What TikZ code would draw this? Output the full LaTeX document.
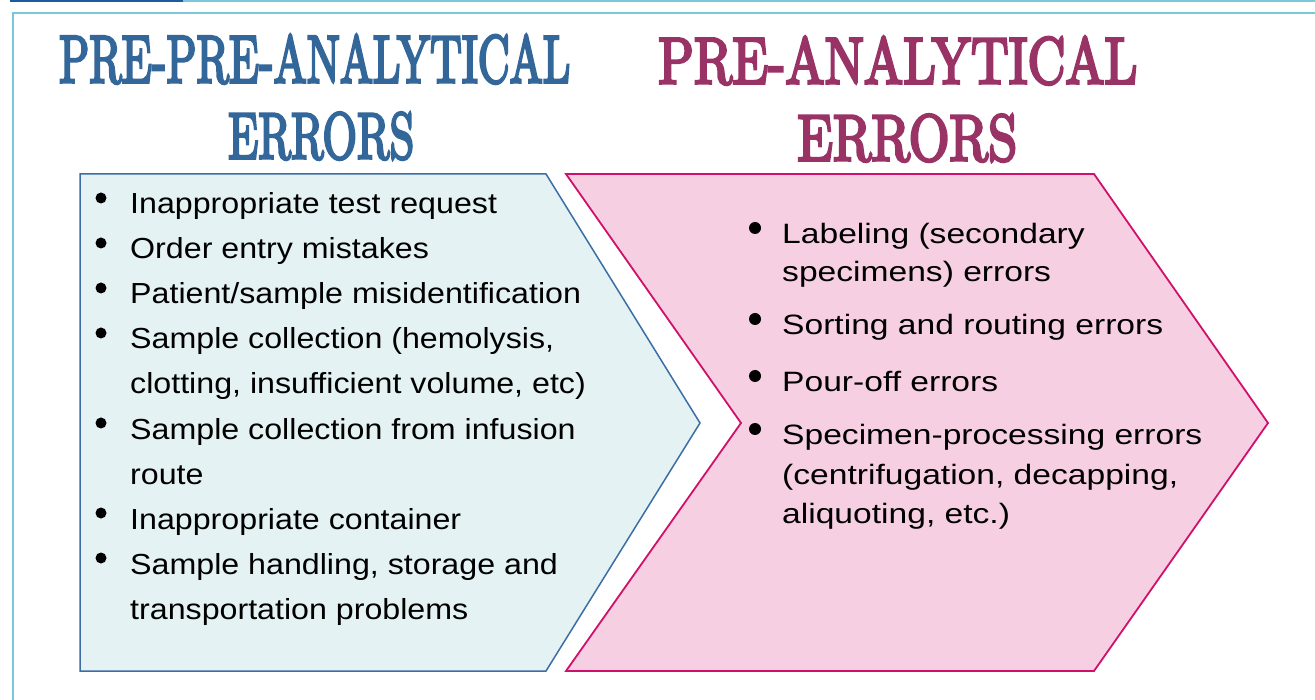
\documentclass[tikz,border=0pt]{standalone}
\usepackage{fontspec}
\usepackage{graphicx}
\newfontfamily\leftfont[FakeStretch=1.11]{Liberation Sans}
\newfontfamily\rightfont[FakeStretch=1.2]{Liberation Sans}
\newfontfamily\titlefont[FakeBold=4.5]{Latin Modern Roman}
\definecolor{titleblue}{HTML}{336699}
\definecolor{titlepink}{HTML}{993366}
\definecolor{boxblue}{HTML}{3A6EA5}
\definecolor{fillblue}{HTML}{E4F2F4}
\definecolor{boxpink}{HTML}{D0106A}
\definecolor{fillpink}{HTML}{F6D0E2}
\definecolor{topdark}{HTML}{1F5A9C}
\definecolor{framecyan}{HTML}{78C8DA}
\begin{document}
\begin{tikzpicture}[x=1pt,y=-1pt,
  ltext/.style={inner sep=0pt, anchor=base west, font=\leftfont\fontsize{29}{29}\selectfont},
  rtext/.style={inner sep=0pt, anchor=base west, font=\rightfont\fontsize{28}{28}\selectfont},
  lbul/.style={circle, fill=black, inner sep=0pt, minimum size=11pt},
  rbul/.style={circle, fill=black, inner sep=0pt, minimum size=12pt},
  ttl/.style={inner sep=0pt, anchor=south west},
  bluebox/.style={draw=boxblue, line width=1.5pt, fill=fillblue},
  pinkbox/.style={draw=boxpink, line width=1.8pt, fill=fillpink}]
\useasboundingbox (0,0) rectangle (1315,700);
\fill[white] (0,0) rectangle (1315,700);
% top rules and frame
\draw[line width=2pt, topdark] (10,1) -- (183,1);
\draw[line width=2pt, framecyan] (183,1) -- (1315,1);
\draw[line width=2pt, framecyan] (13,700) -- (13,13.5) -- (1315,13.5);
% titles
\node[ttl, text=titleblue] (t1) at (59,84) {\resizebox{511pt}{48pt}{\titlefont PRE-PRE-ANALYTICAL}};
\node[ttl, text=titleblue] (t2) at (228,160) {\resizebox{186pt}{46pt}{\titlefont ERRORS}};
\node[ttl, text=titlepink] (t3) at (658,85) {\resizebox{479pt}{47pt}{\titlefont PRE-ANALYTICAL}};
\node[ttl, text=titlepink] (t4) at (797,162) {\resizebox{220pt}{46pt}{\titlefont ERRORS}};
% chevrons
\draw[bluebox] (80,174) -- (546,174) -- (700,423) -- (546,671) -- (80,671) -- cycle;
\draw[pinkbox] (566,174) -- (1094,174) -- (1268,423) -- (1094,671) -- (566,671) -- (741,423) -- cycle;
% left list
\node[ltext] (l1) at (130,214) {Inappropriate test request};
\node[ltext] (l2) at (130,259) {Order entry mistakes};
\node[ltext] (l3) at (130,304) {Patient/sample misidentification};
\node[ltext] (l4) at (130,349) {Sample collection (hemolysis,};
\node[ltext] (l5) at (130,394) {clotting, insufficient volume, etc)};
\node[ltext] (l6) at (130,439) {Sample collection from infusion};
\node[ltext] (l7) at (130,484) {route};
\node[ltext] (l8) at (130,529) {Inappropriate container};
\node[ltext] (l9) at (130,574) {Sample handling, storage and};
\node[ltext] (l10) at (130,619) {transportation problems};
\node[lbul] (b1) at (101,198) {};
\node[lbul] (b2) at (101,243) {};
\node[lbul] (b3) at (101,288) {};
\node[lbul] (b4) at (101,333) {};
\node[lbul] (b6) at (101,423) {};
\node[lbul] (b8) at (101,513) {};
\node[lbul] (b9) at (101,558) {};
% right list
\node[rtext] (r1) at (782,244) {Labeling (secondary};
\node[rtext] (r2) at (782,282) {specimens) errors};
\node[rtext] (r3) at (782,335) {Sorting and routing errors};
\node[rtext] (r4) at (782,392) {Pour-off errors};
\node[rtext] (r5) at (782,445) {Specimen-processing errors};
\node[rtext] (r6) at (782,484) {(centrifugation, decapping,};
\node[rtext] (r7) at (782,523) {aliquoting, etc.)};
\node[rbul] (c1) at (755,228) {};
\node[rbul] (c3) at (755,319) {};
\node[rbul] (c4) at (755,376) {};
\node[rbul] (c5) at (755,429) {};
\end{tikzpicture}
\end{document}
